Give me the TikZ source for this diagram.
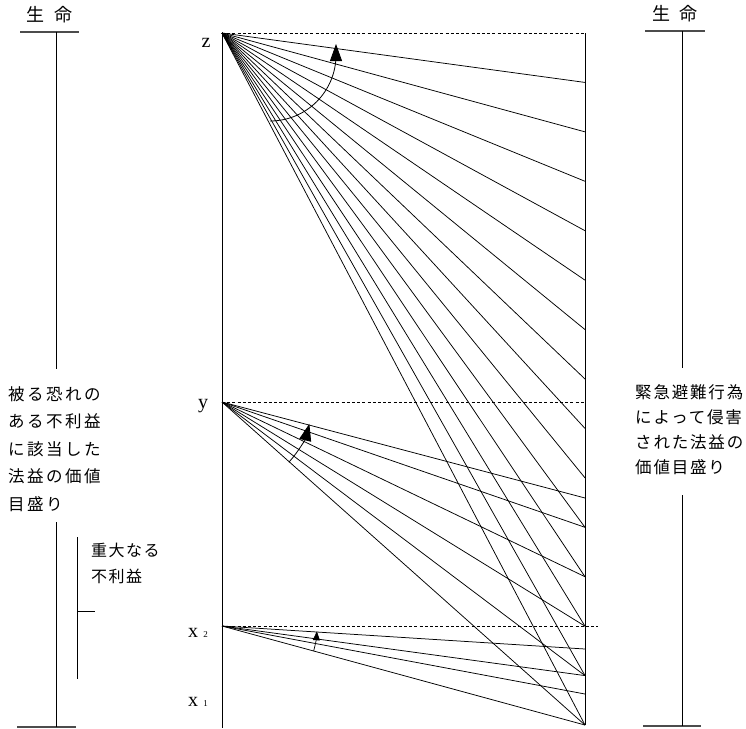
\documentclass[tikz,border=0pt]{standalone}
\usepackage{fontspec}
\setmainfont{Liberation Serif}
\newfontfamily\jpwideA{Noto Sans CJK JP}[LetterSpace=15]
\newfontfamily\jpwideB{Noto Sans CJK JP}[LetterSpace=11]
\newfontfamily\jpwideC{Noto Sans CJK JP}[LetterSpace=9]
\newfontfamily\jpplain{Noto Sans CJK JP}
\usetikzlibrary{arrows.meta}
\begin{document}
\begin{tikzpicture}[x=1pt,y=1pt,
  fan/.style={line width=0.75pt},
  axisline/.style={line width=1pt},
  scalebar/.style={line width=1.5pt, black!70},
  scaleline/.style={line width=1pt},
  guide/.style={line width=0.65pt, dash pattern=on 3pt off 2.2pt},
  arrA/.style={line width=0.8pt, -{Triangle[length=17pt,width=12pt]}},
  arrB/.style={line width=0.7pt, -{Triangle[length=9pt,width=7pt]}},
  jpL/.style={anchor=west, inner sep=0pt, font=\jpwideA\fontsize{16.5}{18}\selectfont},
  jpR/.style={anchor=west, inner sep=0pt, font=\jpwideB\fontsize{16.5}{18}\selectfont},
  jpS/.style={anchor=west, inner sep=0pt, font=\jpwideC\fontsize{16}{18}\selectfont},
  jpT/.style={inner sep=0pt, font=\jpplain\fontsize{18}{20}\selectfont},
  lat/.style={anchor=base, inner sep=0pt, font=\fontsize{20}{22}\selectfont},
  sub/.style={anchor=base, inner sep=0pt, font=\fontsize{9}{10}\selectfont}]
\useasboundingbox (0,0) rectangle (746,-728);
\fill[white] (0,0) rectangle (746,-728);

% main points
\coordinate (z) at (222,-33);
\coordinate (y) at (222,-402);
\coordinate (x2) at (222,-626);
\coordinate (bot) at (222,-728);
\foreach \k in {0,...,14} \coordinate (R\k) at (585,{-33-49.43*\k});
\coordinate (Ry) at (585,-498);
\coordinate (Ryd) at (585,-402);
\coordinate (Ra) at (585,-649);
\coordinate (Rb) at (585,-694);
\coordinate (Rdash) at (598,-626);

% fans
\foreach \k in {1,...,14} \draw[fan] (z) -- (R\k);
\draw[fan] (y) -- (Ry);
\foreach \k in {10,...,14} \draw[fan] (y) -- (R\k);
\foreach \t in {Ra,R13,Rb,R14} \draw[fan] (x2) -- (\t);

% dashed guides
\draw[guide] (z) -- (R0);
\draw[guide] (y) -- (Ryd);
\draw[guide] (x2) -- (Rdash);

% axes
\draw[axisline] (z) -- (bot);
\draw[axisline] (R0) -- (R14);

% angle arrows
\coordinate (za) at (270,-121);
\draw[arrA] (za) arc[start angle=-90, end angle=0, radius=66] -- ++(0,11);
\draw[arrA] (y) ++(-42:90) arc[start angle=-42, end angle=-14, radius=90];
\draw[arrB] (x2) ++(-15.3:95) arc[start angle=-15.3, end angle=-3.3, radius=96];

% point labels
\node[lat] (lz) at (206,-47) {z};
\node[lat] (ly) at (203,-408) {y};
\node[lat] (lx2) at (193,-637) {x};
\node[sub] (lx2s) at (205.5,-637) {2};
\node[lat] (lx1) at (193,-706) {x};
\node[sub] (lx1s) at (205.5,-706) {1};

% left scale
\node[jpT] (lifeL) at (49.5,-15) {生\hspace{9pt}命};
\coordinate (lbA) at (20,-32); \coordinate (lbB) at (79,-32);
\coordinate (lvA) at (56,-32); \coordinate (lvB) at (56,-369);
\coordinate (lvC) at (56,-522); \coordinate (lvD) at (56,-727);
\coordinate (lbC) at (17,-727); \coordinate (lbD) at (76,-727);
\draw[scalebar] (lbA) -- (lbB);
\draw[scalebar] (lbC) -- (lbD);
\draw[scaleline] (lvA) -- (lvB);
\draw[scaleline] (lvC) -- (lvD);
\node[jpL] (l1) at (8,-394) {被る恐れの};
\node[jpL] (l2) at (8,-421) {ある不利益};
\node[jpL] (l3) at (8,-449) {に該当した};
\node[jpL] (l4) at (8,-476) {法益の価値};
\node[jpL] (l5) at (8,-504) {目盛り};

% bracket
\coordinate (brA) at (77,-537); \coordinate (brB) at (77,-679);
\coordinate (brT) at (77,-611); \coordinate (brU) at (95,-611);
\draw[scaleline] (brA) -- (brB);
\draw[scaleline] (brT) -- (brU);
\node[jpS] (s1) at (91,-550) {重大なる};
\node[jpS] (s2) at (91,-576) {不利益};

% right scale
\node[jpT] (lifeR) at (675,-14) {生\hspace{9pt}命};
\coordinate (rbA) at (645,-31); \coordinate (rbB) at (705,-31);
\coordinate (rvA) at (682,-31); \coordinate (rvB) at (682,-368);
\coordinate (rvC) at (682,-495); \coordinate (rvD) at (682,-726);
\coordinate (rbC) at (643,-726); \coordinate (rbD) at (701,-726);
\draw[scalebar] (rbA) -- (rbB);
\draw[scalebar] (rbC) -- (rbD);
\draw[scaleline] (rvA) -- (rvB);
\draw[scaleline] (rvC) -- (rvD);
\node[jpR] (r1) at (635,-392.5) {緊急避難行為};
\node[jpR] (r2) at (635,-417) {によって侵害};
\node[jpR] (r3) at (635,-442) {された法益の};
\node[jpR] (r4) at (635,-467) {価値目盛り};
\end{tikzpicture}
\end{document}
